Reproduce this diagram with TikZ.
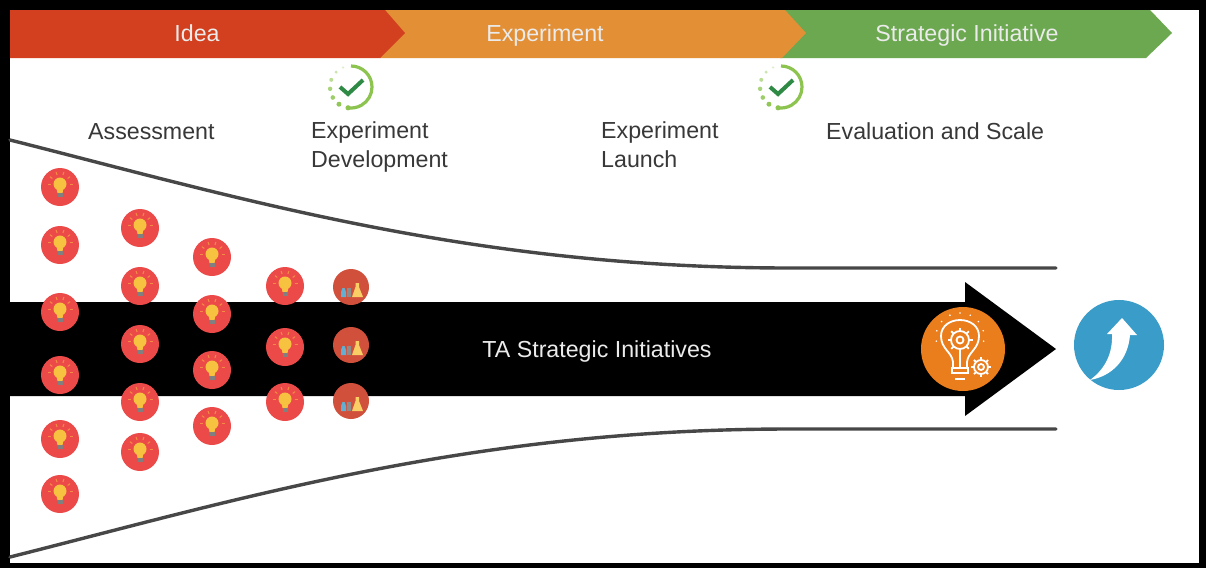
\documentclass[tikz,border=0pt]{standalone}
\usepackage{fontspec}
\setmainfont{Liberation Sans}
\usetikzlibrary{calc}
\definecolor{cred}{HTML}{D2401F}
\definecolor{corange}{HTML}{E38F35}
\definecolor{cgreen}{HTML}{6BA84F}
\definecolor{cballoon}{HTML}{EC4A49}
\definecolor{cflask}{HTML}{D0503C}
\definecolor{cbulb}{HTML}{F7C23F}
\definecolor{cgear}{HTML}{EA7D1C}
\definecolor{cblue}{HTML}{3A9CC8}
\definecolor{ccheck}{HTML}{8CC44F}
\definecolor{cdark}{HTML}{2F8A45}
\definecolor{cfunnel}{HTML}{474747}
\tikzset{
  x=1pt,y=-1pt,
  banner/.style={fill=#1,draw=none},
  bannertext/.style={text=white!92!black,font=\fontsize{23.2}{26}\selectfont,inner sep=0pt,anchor=base},
  steptext/.style={text=black!78,font=\fontsize{23.2}{28.6}\selectfont,inner sep=0pt,align=left},
  funnel/.style={draw=cfunnel,line width=3.4pt,line cap=round},
  ideadisc/.style={circle,fill=cballoon,draw=none,minimum size=38pt,inner sep=0pt},
  flaskdisc/.style={circle,fill=cflask,draw=none,minimum size=36pt,inner sep=0pt},
  bulbicon/.pic={
    \fill[cbulb] (0,-3) circle (6.5);
    \fill[cbulb] (-3.5,1) -- (3.5,1) -- (2.5,6) -- (-2.5,6) -- cycle;
    \fill[black!50] (-2.5,6) rectangle (2.5,10);
    \foreach \a in {0,36,...,180}{
      \draw[cbulb!55!cballoon,line width=1pt] ({9.5*cos(\a)},{-3-9.5*sin(\a)}) -- ({12.5*cos(\a)},{-3-12.5*sin(\a)});
    }
  },
  flaskicon/.pic={
    \fill[cbulb!80!white] (4.5,-4) -- (8,-4) -- (8,0) -- (12,10) -- (1,10) -- (4.5,0) -- cycle;
    \fill[black!45] (-4,1) rectangle (0,10);
    \fill[cblue!80!white] (-10,10) -- (-5,10) -- (-5,5) -- (-6.5,1) -- (-8.5,1) -- (-10,5) -- cycle;
  },
  checkicon/.pic={
    \draw[ccheck,line width=3.2pt] (0,-21) arc[start angle=-90,end angle=98,radius=21];
    \foreach \a/\s/\c in {112/1.2/30,135/1.6/45,160/2/60,185/2.2/75,210/2.3/85,235/2.5/95,262/2.6/100}{
      \fill[ccheck!\c!white] ({21*cos(\a)},{-21*sin(\a)}) circle (\s);
    }
    \draw[cdark,line width=4pt] (-11,0) -- (-3,7) -- (12,-7);
  }
}
\begin{document}
\begin{tikzpicture}
\useasboundingbox (0,0) rectangle (1206,568);
\fill[black] (0,0) rectangle (1206,568);
\fill[white] (10,10) rectangle (1199,563);

% banner
\coordinate (b0) at (10,10);
\fill[banner=cgreen] (785,10) -- (1150,10) -- (1172,33) -- (1146,58) -- (780,58) -- cycle;
\fill[banner=corange] (385,10) -- (785,10) -- (806,33) -- (782,58) -- (380,58) -- cycle;
\fill[banner=cred] (b0) -- (385,10) -- (405,33) -- (380,58) -- (10,58) -- cycle;
\node[bannertext] (t1) at (197,41) {Idea};
\node[bannertext] (t2) at (545,41) {Experiment};
\node[bannertext] (t3) at (967,41) {Strategic Initiative};

% checks
\pic at (351,87) {checkicon};
\pic at (781,87) {checkicon};

% step labels
\node[steptext,anchor=base west] (s1) at (88,139) {Assessment};
\node[steptext,anchor=base west] (s2) at (311,167.4) {Experiment\\Development};
\node[steptext,anchor=base west] (s3) at (601,167.4) {Experiment\\Launch};
\node[steptext,anchor=base west] (s4) at (826,139) {Evaluation and Scale};

% funnel
\coordinate (ft0) at (10,140);
\coordinate (ft1) at (1056,268);
\coordinate (fb0) at (10,557);
\coordinate (fb1) at (1056,429);
\draw[funnel] (ft0) .. controls (240,198) and (470,268) .. (790,268) -- (ft1);
\draw[funnel] (fb0) .. controls (240,499) and (470,429) .. (790,429) -- (fb1);

% main arrow
\fill[black] (10,302) -- (965,302) -- (965,282) -- (1056,349) -- (965,416) -- (965,396) -- (10,396) -- cycle;
\node[text=white!92!black,font=\fontsize{23.2}{26}\selectfont,inner sep=0pt,anchor=base] (main) at (597,357) {TA Strategic Initiatives};

% idea discs
\foreach \n/\x/\y in {a1/60/187,a2/60/245,a3/60/312,a4/60/375,a5/60/439,a6/60/494,
  b1/140/228,b2/140/286,b3/140/344,b4/140/402,b5/140/452,
  c1/212/257,c2/212/314,c3/212/370,c4/212/426,
  d1/285/286,d2/285/347,d3/285/402}{
  \node[ideadisc] (\n) at (\x,\y) {};
  \pic at (\x,\y) {bulbicon};
}
\foreach \n/\x/\y in {e1/351/287,e2/351/345,e3/351/401}{
  \node[flaskdisc] (\n) at (\x,\y) {};
  \pic at (\x,\y) {flaskicon};
}

% orange disc
\node[circle,fill=cgear,minimum size=84pt,inner sep=0pt] (gear) at (963,349) {};
\begin{scope}[shift={(960,340)},draw=white,line width=1.8pt]
  \draw (-7,28) -- (-7,22) .. controls (-8,12) and (-19,9) .. (-19,-4) .. controls (-19,-14) and (-10,-20) .. (0,-20) .. controls (10,-20) and (19,-14) .. (19,-4) .. controls (19,9) and (8,12) .. (7,22) -- (7,28);
  \draw (-8,28) rectangle (8,33);
  \draw (-5,39) -- (5,39);
  \draw (0,28) -- (0,10);
  \draw (0,0) circle (3.5);
  \draw (0,0) circle (9);
  \foreach \a in {0,45,...,315}{\draw ({9*cos(\a)},{9*sin(\a)}) -- ({12.5*cos(\a)},{12.5*sin(\a)});}
  \foreach \a in {-10,15,...,190}{\fill[white] ({24*cos(\a)},{-3-24*sin(\a)}) circle (0.9);}
  \draw (21,27) circle (3);
  \draw (21,27) circle (7);
  \foreach \a in {0,45,...,315}{\draw ({21+7*cos(\a)},{27+7*sin(\a)}) -- ({21+10*cos(\a)},{27+10*sin(\a)});}
\end{scope}

% blue disc
\node[circle,fill=cblue,minimum size=90pt,inner sep=0pt] (up) at (1119,345) {};
\fill[white] (1090,380) .. controls (1101,372) and (1113,358) .. (1112,334) -- (1107,334) -- (1122,318) -- (1137,335) -- (1130,335) .. controls (1128,360) and (1112,376) .. (1090,380) -- cycle;
\end{tikzpicture}
\end{document}
